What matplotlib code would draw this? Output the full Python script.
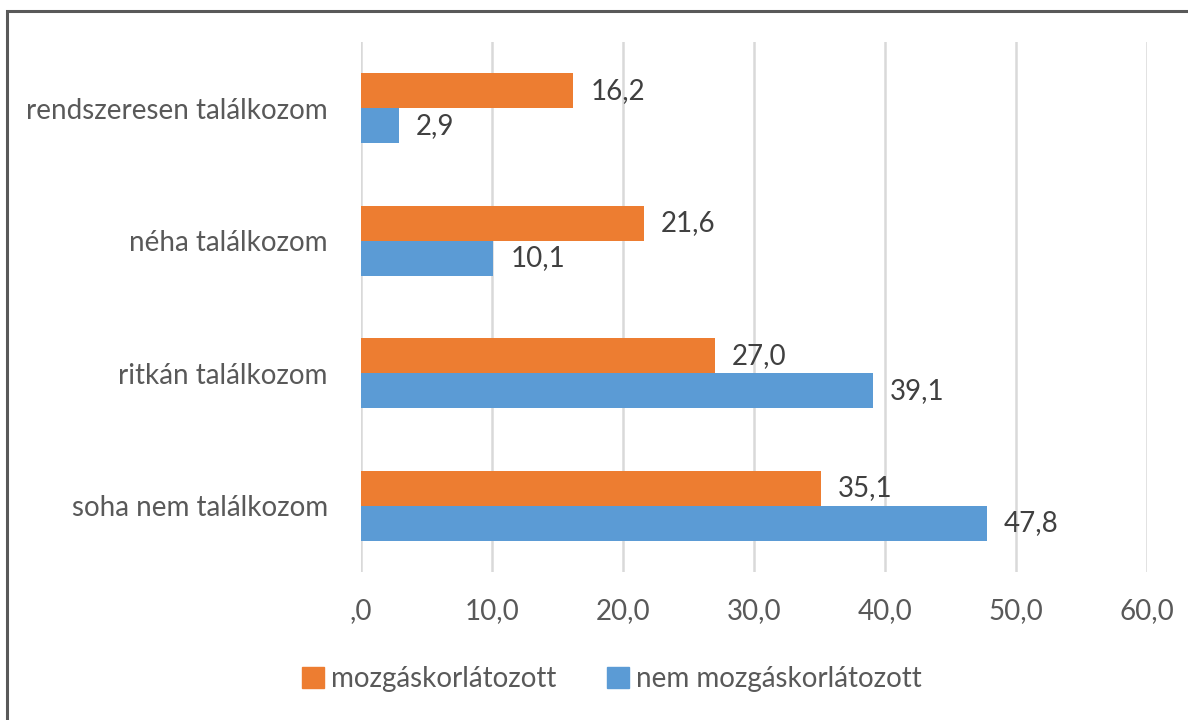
import matplotlib
matplotlib.use("Agg")
import matplotlib.pyplot as plt
from matplotlib.patches import Rectangle, Patch
import numpy as np

categories = ["soha nem találkozom", "ritkán találkozom", "néha találkozom", "rendszeresen találkozom"]
mozgas = [35.1, 27.0, 21.6, 16.2]
nem_mozgas = [47.8, 39.1, 10.1, 2.9]
series_names = ["mozgáskorlátozott", "nem mozgáskorlátozott"]
xticks = [0, 10, 20, 30, 40, 50, 60]
xtick_labels = [",0", "10,0", "20,0", "30,0", "40,0", "50,0", "60,0"]

ORANGE = "#ED7D31"
BLUE = "#5B9BD5"
TEXT = "#595959"
GRID = "#D9D9D9"

plt.rcParams['font.family'] = ['Lato', 'DejaVu Sans']

W, H = 1188, 720
fig = plt.figure(figsize=(W / 100, H / 100), dpi=100)
ax = fig.add_axes([361 / W, 1 - 572 / H, (1147 - 361) / W, (572 - 42) / H])

# outer frame
fig.patches.append(Rectangle((7 / W, -0.1), 1.2, (H - 11) / H + 0.1, transform=fig.transFigure,
                             fill=False, edgecolor="#595959", linewidth=2.2))

y = np.arange(len(categories))
h = 0.265
ax.barh(y + h / 2, mozgas, height=h, color=ORANGE, zorder=3)
ax.barh(y - h / 2, nem_mozgas, height=h, color=BLUE, zorder=3)

def fmt(v):
    return f"{v:.1f}".replace(".", ",")

for yi, v in zip(y, mozgas):
    ax.annotate(fmt(v), (v, yi + h / 2), xytext=(17, 0), textcoords="offset pixels",
                va="center", ha="left", fontsize=20, color="#404040")
for yi, v in zip(y, nem_mozgas):
    ax.annotate(fmt(v), (v, yi - h / 2), xytext=(17, 0), textcoords="offset pixels",
                va="center", ha="left", fontsize=20, color="#404040")

ax.set_xlim(0, 60)
ax.set_ylim(-0.5, 3.5)
ax.set_xticks(xticks)
ax.set_xticklabels(xtick_labels)
ax.set_yticks(y)
ax.set_yticklabels(categories)
ax.tick_params(axis="both", length=0, labelsize=20, labelcolor=TEXT)
ax.tick_params(axis="x", pad=19)
ax.tick_params(axis="y", pad=24)
ax.grid(axis="x", color=GRID, linewidth=1.8, zorder=0)
for s in ax.spines.values():
    s.set_visible(False)

handles = [Patch(color=ORANGE), Patch(color=BLUE)]
fig.legend(handles, series_names, loc="center", bbox_to_anchor=(612 / W, 1 - 679 / H),
           ncol=2, frameon=False, fontsize=20, labelcolor=TEXT, handlelength=0.8,
           handleheight=0.8, handletextpad=0.25, columnspacing=1.8)

fig.savefig("out.png", dpi=100)
